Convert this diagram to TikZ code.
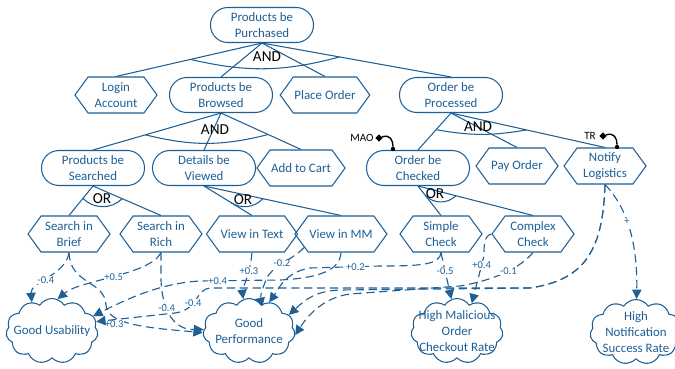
\documentclass[tikz,border=0pt]{standalone}
\usepackage{fontspec}
\setmainfont{Carlito}
\usetikzlibrary{shapes.symbols,shapes.geometric,arrows.meta,calc}
\definecolor{istar}{RGB}{30,96,150}
\newcommand{\goalfont}{\fontsize{11}{13.6}\selectfont}
\newcommand{\lblfont}{\fontsize{9}{10}\selectfont}
\newcommand{\opfont}{\fontsize{13}{14}\selectfont}
\newcommand{\qualfont}{\fontsize{9.5}{10}\selectfont}

\tikzset{
  goal/.style={draw=istar, line width=0.9pt, rounded corners=0.52cm, minimum width=3.09cm,
    minimum height=1.05cm, text=istar, align=center, font=\goalfont, inner sep=1pt},
  task/.style={draw=istar, line width=0.9pt, signal, signal to=west and east,
    signal pointer angle=108, minimum width=2.46cm, minimum height=1.08cm,
    text=istar, align=center, font=\goalfont, inner sep=1pt},
  softgoal/.style={draw=istar, line width=0.9pt, cloud, cloud puffs=11, cloud puff arc=115,
    cloud ignores aspect, minimum width=2.76cm, minimum height=1.95cm},
  softtext/.style={text=istar, align=center, font=\goalfont},
  decomp/.style={draw=istar, line width=0.9pt},
  contrib/.style={draw=istar, line width=0.95pt, dash pattern=on 7pt off 4pt,
    -{Triangle[length=8pt,width=8pt]}},
  lbl/.style={text=istar, font=\lblfont, fill=white, inner sep=0.5pt},
  optext/.style={font=\opfont, text=black},
  qualtag/.style={font=\qualfont, text=black, inner sep=0pt},
  qualdiam/.style={diamond, fill=black, inner sep=0pt, minimum size=0.22cm},
  qualdot/.style={circle, fill=black, inner sep=0pt, minimum size=0.13cm}
}

\begin{document}
\begin{tikzpicture}[x=0.03cm, y=-0.03cm]
\clip (0,0) rectangle (675,369);
\fill[white] (0,0) rectangle (675,369);

% goals and tasks
\node[goal] (PP) at (262,25) {Products be\\Purchased};
\node[task] (LA) at (116,95) {Login\\Account};
\node[goal] (PB) at (221,95) {Products be\\Browsed};
\node[task] (PO) at (325,95) {Place Order};
\node[goal] (OP) at (451,95) {Order be\\Processed};

\node[goal] (PS) at (93,168) {Products be\\Searched};
\node[goal] (DV) at (204,168) {Details be\\Viewed};
\node[task] (AC) at (301,168) {Add to Cart};
\node[goal] (OC) at (418,168) {Order be\\Checked};
\node[task] (PY) at (517,166) {Pay Order};
\node[task] (NL) at (605,166) {Notify\\Logistics};

\node[task] (SB) at (69,234) {Search in\\Brief};
\node[task] (SR) at (161,234) {Search in\\Rich};
\node[task] (VT) at (252,234) {View in Text};
\node[task] (VM) at (341,234) {View in MM};
\node[task] (SC) at (441,234) {Simple\\Check};
\node[task] (CC) at (533,234) {Complex\\Check};

% softgoals
\node[softgoal] (GU) at (52,331) {};
\node[softtext] at (GU) {Good Usability};
\node[softgoal] (GP) at (249,331) {};
\node[softtext] at (GP) {Good\\Performance};
\node[softgoal] (HM) at (457,331) {};
\node[softtext] at (HM) {High Malicious\\Order\\Checkout Rate};
\node[softgoal] (HN) at (636,332) {};
\node[softtext] at (HN) {High\\Notification\\Success Rate};

% decompositions
\draw[decomp] (PP.south) -- (LA.north);
\draw[decomp] (PP.south) -- (PB.north);
\draw[decomp] (PP.south) -- (PO.north);
\draw[decomp] (PP.south) -- (OP.north);
\draw[decomp] ($(PP.south)!0.49!(LA.north)$) to[bend right=14] ($(PP.south)!0.41!(OP.north)$);
\node[optext] (and1) at (267,57) {AND};

\draw[decomp] (PB.south) -- (PS.north);
\draw[decomp] (PB.south) -- (DV.north);
\draw[decomp] (PB.south) -- (AC.north);
\draw[decomp] ($(PB.south)!0.59!(PS.north)$) to[bend right=14] ($(PB.south)!0.59!(AC.north)$);
\node[optext] (and2) at (215,130) {AND};

\draw[decomp] (OP.south) -- (OC.north);
\draw[decomp] (OP.south) -- (PY.north);
\draw[decomp] (OP.south) -- (NL.north);
\draw[decomp] ($(OP.south)!0.45!(OC.north)$) to[bend right=10] ($(OP.south)!0.49!(NL.north)$);
\node[optext] (and3) at (478,127) {AND};

\draw[decomp] (PS.south) -- (SB.north);
\draw[decomp] (PS.south) -- (SR.north);
\draw[decomp] ($(PS.south)!0.42!(SB.north)$) to[bend right=45] ($(PS.south)!0.43!(SR.north)$);
\node[optext] (or1) at (102,199) {OR};

\draw[decomp] (DV.south) -- (VT.north);
\draw[decomp] (DV.south) -- (VM.north);
\draw[decomp] ($(DV.south)!0.55!(VT.north)$) to[bend right=40] ($(DV.south)!0.43!(VM.north)$);
\node[optext] (or2) at (243,200) {OR};

\draw[decomp] (OC.south) -- (SC.north);
\draw[decomp] (OC.south) -- (CC.north);
\draw[decomp] ($(OC.south)!0.32!(SC.north)$) to[bend right=45] ($(OC.south)!0.33!(CC.north)$);
\node[optext] (or3) at (435,194) {OR};

% qualification tags
\node[qualtag] (mao) at (362,138) {MAO};
\node[qualdiam] (maod) at (379,138) {};
\node[qualdot] (maoe) at (393,149) {};
\draw[line width=1.2pt] (maod) .. controls (390,134) and (393,140) .. (maoe);
\node[qualtag] (tr) at (590,136) {TR};
\node[qualdiam] (trd) at (603,136) {};
\node[qualdot] (tre) at (617,147) {};
\draw[line width=1.2pt] (trd) .. controls (614,132) and (617,138) .. (tre);

% contributions
\draw[contrib] (SB.south) .. controls (66,275) and (30,282) .. node[lbl, pos=0.55] {-0.4} (GU.125);
\draw[contrib] (SB.south) .. controls (70,285) and (105,280) .. (106,305)
  .. controls (107,325) and (150,328) .. node[lbl, pos=0.25, below=2pt] {+0.3} (GP.182);
\draw[contrib] (SR.south) .. controls (150,275) and (80,280) .. node[lbl, pos=0.5] {+0.5} (GU.80);
\draw[contrib] (SR.south) -- ++(0,28) .. controls (163,320) and (180,330) .. node[lbl, pos=0.3] {-0.4} (GP.178);
\draw[contrib] (VM.south) .. controls (340,270) and (320,278) .. (280,280) -- node[lbl, pos=0.78] {+0.4} (200,281)
  .. controls (160,283) and (125,300) .. (GU.20);
\draw[contrib] (VT.south) .. controls (250,275) and (242,290) .. node[lbl, pos=0.3] {+0.3} (GP.100);
\draw[contrib] (VM.200) .. controls (290,262) and (272,265) .. node[lbl, pos=0.5] {-0.2} (266,280)
  .. controls (262,290) and (258,300) .. (GP.80);
\draw[contrib] (SC.south) .. controls (440,265) and (420,266) .. (380,266) -- node[lbl, pos=0.35] {+0.2} (310,268)
  .. controls (285,272) and (278,290) .. (GP.55);
\draw[contrib] (SC.south) -- node[lbl, pos=0.4] {-0.5} (HM.100);
\draw[contrib] (CC.west) .. controls (484,236) and (484,245) .. (484,256) -- node[lbl, pos=0.2] {+0.4} (HM.62);
\draw[contrib] (CC.south) .. controls (520,268) and (495,280) .. node[lbl, pos=0.45] {-0.1} (460,286)
  -- (350,294) .. controls (320,298) and (305,320) .. (GP.-5);
\draw[contrib] (NL.south) .. controls (603,250) and (585,280) .. (530,288) -- (340,290)
  .. controls (315,291) and (305,300) .. (GP.22);
\draw[contrib] (NL.south) .. controls (603,250) and (585,280) .. (530,288) -- (210,288)
  .. controls (196,289) and (198,310) .. node[lbl, pos=0.6] {-0.4} (175,313) -- (GU.12);
\draw[contrib] (NL.south) .. controls (620,200) and (638,230) .. node[lbl, pos=0.5] {+} (HN.89);

\end{tikzpicture}
\end{document}
